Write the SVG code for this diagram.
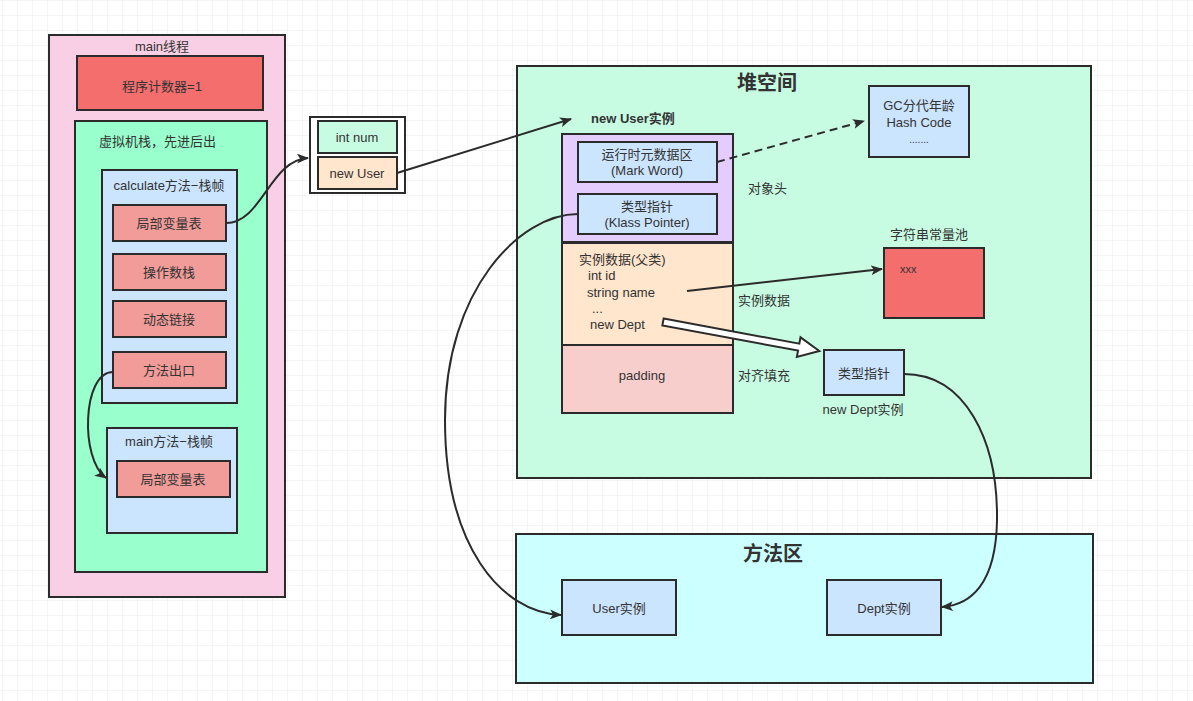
<svg xmlns="http://www.w3.org/2000/svg" width="1193" height="701" viewBox="0 0 1193 701">
<style>
.b{stroke:#2b2b2b;stroke-width:2}
.t{font-family:"Liberation Sans","Noto Sans CJK SC",sans-serif;font-size:13px;fill:#333}
.c{text-anchor:middle}
.h{font-family:"Liberation Sans","Noto Sans CJK SC",sans-serif;font-size:20px;font-weight:bold;fill:#333;text-anchor:middle}
.e{fill:none;stroke:#2b2b2b;stroke-width:2}
.red{fill:#f46e6e}.sal{fill:#f19c99}.blu{fill:#cce5ff}.mint{fill:#99ffcc}.lm{fill:#c8fce2}.pk{fill:#f9cfe5}.or{fill:#ffe6cc}.pu{fill:#e5ccff}.pd{fill:#f8cecc}.cy{fill:#ccffff}
</style>
<defs>
<pattern id="grid" width="15" height="15" patternUnits="userSpaceOnUse" x="2" y="0">
<path d="M15,0 L0,0 0,15" fill="none" stroke="#ebebeb" stroke-width="1"/>
</pattern>
<marker id="arr" viewBox="0 0 12 10" refX="11" refY="5" markerWidth="12" markerHeight="10" markerUnits="userSpaceOnUse" orient="auto">
<path d="M0,0 L12,5 L0,10 L3,5 Z" fill="#2b2b2b"/>
</marker>
</defs>
<rect width="1193" height="701" fill="#fff"/>
<rect width="1193" height="701" fill="url(#grid)"/>

<g id="main-thread">
<rect class="b pk" x="49" y="35" width="236" height="562"/>
<text class="t c" x="162" y="51">main线程</text>
</g>
<g id="pc">
<rect class="b red" x="77" y="56" width="186" height="54"/>
<text class="t c" x="162" y="91">程序计数器=1</text>
</g>
<g id="vm-stack">
<rect class="b mint" x="75" y="121" width="192" height="451"/>
<text class="t" x="99" y="146">虚拟机栈，先进后出</text>
</g>
<g id="calc-frame">
<rect class="b blu" x="102" y="170" width="135" height="233"/>
<text class="t c" x="169" y="190">calculate方法−栈帧</text>
</g>
<g id="calc-locals">
<rect class="b sal" x="113" y="205" width="113" height="36"/>
<text class="t c" x="169" y="228">局部变量表</text>
</g>
<g id="calc-operand">
<rect class="b sal" x="113" y="254" width="113" height="36"/>
<text class="t c" x="169" y="277">操作数栈</text>
</g>
<g id="calc-link">
<rect class="b sal" x="113" y="301" width="113" height="36"/>
<text class="t c" x="169" y="324">动态链接</text>
</g>
<g id="calc-exit">
<rect class="b sal" x="113" y="352" width="113" height="36"/>
<text class="t c" x="169" y="375">方法出口</text>
</g>
<g id="main-frame">
<rect class="b blu" x="107" y="428" width="130" height="105"/>
<text class="t c" x="169" y="446">main方法−栈帧</text>
</g>
<g id="main-locals">
<rect class="b sal" x="117" y="461" width="113" height="36"/>
<text class="t c" x="173" y="484">局部变量表</text>
</g>

<g id="locals-table">
<rect x="310" y="117" width="95" height="76" fill="#fff" class="b"/>
<rect class="b lm" x="318" y="121" width="79" height="32"/>
<text class="t c" x="357" y="142">int num</text>
<rect class="b or" x="318" y="157" width="79" height="32"/>
<text class="t c" x="357" y="178">new User</text>
</g>

<g id="heap">
<rect class="b lm" x="517" y="66" width="574" height="412"/>
<text class="h" x="767" y="90">堆空间</text>
<text class="t" x="591" y="123" style="font-weight:bold">new User实例</text>
<text class="t" x="748" y="193">对象头</text>
<text class="t" x="738" y="305">实例数据</text>
<text class="t" x="738" y="380">对齐填充</text>
</g>
<g id="obj-header">
<rect class="b pu" x="562" y="134" width="171" height="108"/>
</g>
<g id="mark-word">
<rect class="b blu" x="578" y="142" width="139" height="40"/>
<text class="t c" x="647" y="159">运行时元数据区</text>
<text class="t c" x="647" y="175">(Mark Word)</text>
</g>
<g id="klass-pointer">
<rect class="b blu" x="578" y="194" width="139" height="40"/>
<text class="t c" x="647" y="211">类型指针</text>
<text class="t c" x="647" y="227">(Klass Pointer)</text>
</g>
<g id="instance-data">
<rect class="b or" x="562" y="243" width="171" height="102"/>
<text class="t" x="579" y="264">实例数据(父类)</text>
<text class="t" x="588" y="280">int id</text>
<text class="t" x="587" y="297">string name</text>
<text class="t" x="592" y="313">...</text>
<text class="t" x="590" y="329">new Dept</text>
</g>
<g id="padding">
<rect class="b pd" x="562" y="345" width="171" height="68"/>
<text class="t c" x="642" y="380">padding</text>
</g>
<g id="gc-info">
<rect class="b blu" x="869" y="86" width="100" height="71"/>
<text class="t c" x="919" y="110">GC分代年龄</text>
<text class="t c" x="919" y="127">Hash Code</text>
<text class="t c" x="919" y="143" style="font-size:10px">.......</text>
</g>
<g id="string-pool">
<text class="t c" x="929" y="239">字符串常量池</text>
<rect class="b red" x="884" y="248" width="100" height="70"/>
<text class="t" x="900" y="273" style="font-size:11px">xxx</text>
</g>
<g id="dept-instance">
<rect class="b blu" x="824" y="350" width="80" height="45"/>
<text class="t c" x="864" y="378">类型指针</text>
<text class="t c" x="863" y="414">new Dept实例</text>
</g>

<g id="method-area">
<rect class="b cy" x="516" y="534" width="577" height="149"/>
<text class="h" x="773" y="561">方法区</text>
</g>
<g id="user-class">
<rect class="b blu" x="562" y="580" width="114" height="55"/>
<text class="t c" x="619" y="613">User实例</text>
</g>
<g id="dept-class">
<rect class="b blu" x="827" y="580" width="114" height="55"/>
<text class="t c" x="884" y="613">Dept实例</text>
</g>

<g id="connectors">
<path class="e" d="M226,223 C262,223 270,160 308,158" marker-end="url(#arr)"/>
<path class="e" d="M113,372 C82,372 80,460 106,478" marker-end="url(#arr)"/>
<path class="e" d="M397,173 L571,119" marker-end="url(#arr)"/>
<path class="e" d="M717,162 L864,121" stroke-dasharray="8,5" marker-end="url(#arr)"/>
<path class="e" d="M687,291 L882,269" marker-end="url(#arr)"/>
<path class="e" d="M578,214 C520,214 445,290 445,420 C445,545 500,612 561,615" marker-end="url(#arr)"/>
<path class="e" d="M904,374 C965,374 998,440 997,520 C996,585 970,605 942,607" marker-end="url(#arr)"/>
<polygon transform="translate(663,322) rotate(10.5)" points="0,-3.5 138,-3.5 138,-10 159,0 138,10 138,3.5 0,3.5" fill="#fff" stroke="#2b2b2b" stroke-width="2" stroke-linejoin="miter"/>
</g>
</svg>
